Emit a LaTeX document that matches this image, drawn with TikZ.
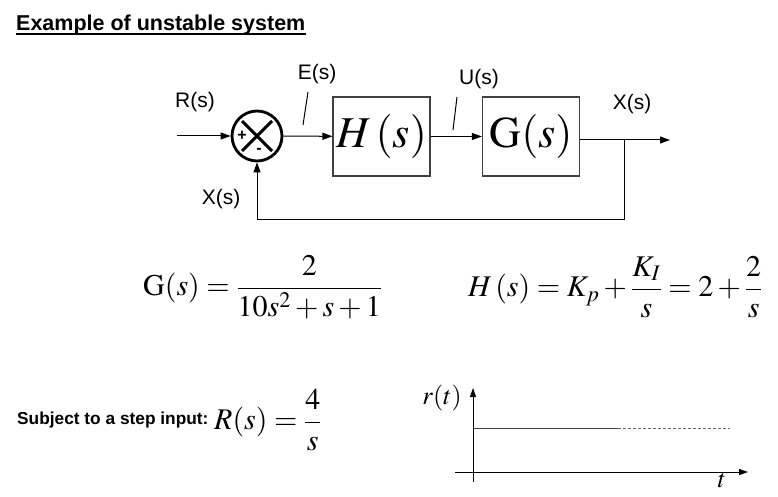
\documentclass[tikz,border=0pt]{standalone}
\usepackage{amsmath}
\usepackage{mathptmx}
\usepackage{fontspec}
\setmainfont{Liberation Serif}
\newfontfamily\arial{Liberation Sans}
\usetikzlibrary{arrows.meta}

\begin{document}
\begin{tikzpicture}[x=1pt,y=-1pt,
  lbl/.style={font=\arial\fontsize{21}{24}\selectfont},
  sgn/.style={font=\arial\bfseries\fontsize{16}{18}\selectfont,inner sep=0pt},
  blk/.style={draw=black!75,line width=1.2pt,minimum width=97pt,minimum height=79pt,inner sep=0pt,font=\fontsize{44}{48}\selectfont},
  sig/.style={line width=1pt,-{Triangle[length=10pt,width=7pt]}},
  wire/.style={line width=1pt},
  axis/.style={line width=1pt,-{Triangle[length=9pt,width=6pt]}},
  eqn/.style={font=\fontsize{30}{34}\selectfont,inner sep=0pt}]
\useasboundingbox (0,0) rectangle (778,497);
% title
\node[anchor=base west,inner sep=0pt,font=\arial\bfseries\fontsize{21.5}{24}\selectfont] (title) at (16,31) {Example of unstable system};
\draw[line width=1.6pt] ([yshift=-3pt]title.base west) -- ([yshift=-3pt]title.base east);
% block diagram
\node[circle,draw,line width=2.8pt,minimum size=50pt,inner sep=0pt] (sum) at (257,136) {};
\draw[line width=3pt] (242,121) -- (272,151) (242,151) -- (272,121);
\node[sgn] (plus) at (242,136) {+};
\node[sgn] (minus) at (259,151) {-};
\node[blk] (H) at (381.5,136.5) {$H\,(s)$};
\node[blk] (G) at (531,136.5) {$\mathrm{G}(s)$};
\coordinate (rin) at (177,136);
\coordinate (branch) at (624,140);
\coordinate (xout) at (670,140);
\draw[sig] (rin) -- (sum);
\draw[sig] (sum) -- (H);
\draw[sig] (H) -- (G);
\draw[wire] (G.east |- branch) -- (branch);
\draw[sig] (branch) -- (xout);
\draw[sig] (branch) -- ++(0,79) -| (sum.south);
\draw[wire] (308,92) -- (303,125);
\draw[wire] (457,97) -- (453,130);
\node[lbl] (Rlbl) at (195,102) {R(s)};
\node[lbl] (Elbl) at (317,74) {E(s)};
\node[lbl] (Ulbl) at (479,79) {U(s)};
\node[lbl] (Xlbl) at (632,104) {X(s)};
\node[lbl] (Xfb) at (221,199) {X(s)};
% transfer functions
\node[eqn,anchor=west] (Geq) at (143,287) {$\mathrm{G}(s)=\dfrac{2}{10s^2+s+1}$};
\node[eqn,anchor=west] (Heq) at (468,287) {$H\,(s)=K_p+\dfrac{K_I}{s}=2+\dfrac{2}{s}$};
% step input
\node[anchor=west,inner sep=0pt,font=\arial\bfseries\fontsize{17.3}{20}\selectfont] (subj) at (17,420) {Subject to a step input:};
\node[eqn,anchor=west] (Req) at (214,420) {$R(s)=\dfrac{4}{s}$};
\coordinate (ybot) at (473,482);
\coordinate (ytop) at (473,388);
\coordinate (xl) at (455,472);
\coordinate (xr) at (748,472);
\coordinate (s0) at (473,428);
\coordinate (s1) at (618,428);
\coordinate (s2) at (730,428);
\draw[axis] (ybot) -- (ytop);
\draw[axis] (xl) -- (xr);
\draw[wire,black!75] (s0) -- (s1);
\draw[wire,black!60,dash pattern=on 3pt off 2pt] (s1) -- (s2);
\node[font=\fontsize{26}{28}\selectfont] (rlbl) at (442,398) {$r(t)$};
\node[font=\fontsize{26}{28}\selectfont] (tlbl) at (722,481) {$t$};
\end{tikzpicture}
\end{document}
